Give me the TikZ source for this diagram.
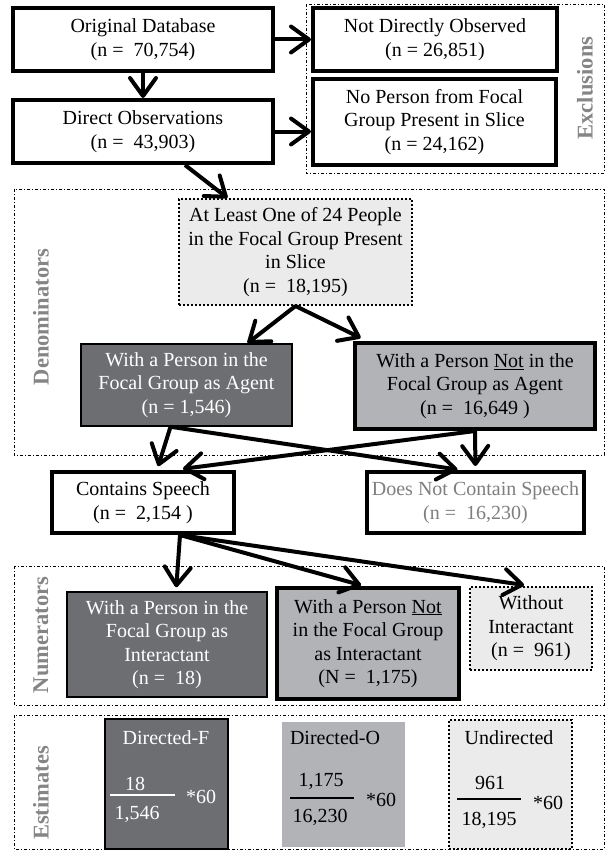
\documentclass[tikz,border=0pt]{standalone}
\usepackage{fontspec}
\setmainfont{Liberation Serif}
\usetikzlibrary{arrows.meta}
\definecolor{darkfill}{HTML}{6D6E71}
\definecolor{midfill}{HTML}{B1B3B6}
\definecolor{lightfill}{HTML}{EBEBEC}
\definecolor{labelgrey}{HTML}{858585}
\definecolor{softtext}{HTML}{7F7F7F}
\begin{document}
\begin{tikzpicture}[x=1pt, y=-1pt,
    every node/.style={font=\fontsize{20}{23.5}\selectfont, align=center, inner sep=0pt},
    stage/.style={draw, line width=4pt, fill=white},
    darkstage/.style={draw, line width=1.5pt, fill=darkfill, text=white},
    greystage/.style={draw, line width=4pt, fill=midfill},
    dotstage/.style={draw, line width=2pt, dotted, fill=lightfill},
    frame/.style={line width=0.8pt, dash pattern=on 3pt off 2pt on 1pt off 2pt},
    sidelabel/.style={rotate=90, text=labelgrey, font=\fontsize{22.5}{26}\selectfont\bfseries},
    flow/.style={line width=4pt, -{Straight Barb[length=18pt, width=26pt, round]}},
    fracline/.style={line width=2pt}]
   \useasboundingbox (0,0) rectangle (607,851);
   \draw[frame] (306,4) rectangle (604,173);
   \draw[frame] (14,189) rectangle (604,455);
   \draw[frame] (14,566) rectangle (604,705);
   \draw[frame] (14,715) rectangle (604,849);
   \node[sidelabel] (exclusions) at (585,88) {Exclusions};
   \node[sidelabel] (denominators) at (41,317) {Denominators};
   \node[sidelabel] (numerators) at (41,635) {Numerators};
   \node[sidelabel] (estimates) at (41,793) {Estimates};

   \node[stage, minimum width=260pt, minimum height=63pt] (orig) at (143,39.5) {Original Database\\(n = ~70,754)};
   \node[stage, minimum width=244pt, minimum height=63pt] (notobs) at (435,39.5) {Not Directly Observed\\(n = 26,851)};
   \node[stage, minimum width=260pt, minimum height=63pt] (direct) at (143,131.5) {Direct Observations\\(n = ~43,903)};
   \node[stage, minimum width=243pt, minimum height=86pt] (noperson) at (434.5,122) {No Person from Focal\\Group Present in Slice\\(n = 24,162)};
   \node[dotstage, minimum width=233pt, minimum height=106pt] (atleast) at (295.5,252) {At Least One of 24 People\\in the Focal Group Present\\in Slice\\(n = ~18,195)};
   \node[darkstage, minimum width=211pt, minimum height=82pt] (agent) at (186.5,385) {With a Person in the\\Focal Group as Agent\\(n = 1,546)};
   \node[greystage, minimum width=240pt, minimum height=86pt] (notagent) at (475,386) {With a Person \underline{Not} in the\\Focal Group as Agent\\(n = ~16,649 )};
   \node[stage, minimum width=182pt, minimum height=61pt] (contains) at (143,502.5) {Contains Speech\\(n = ~2,154 )};
   \node[stage, text=softtext, minimum width=217pt, minimum height=61pt] (doesnot) at (475.5,502.5) {Does Not Contain Speech\\(n = ~16,230)};
   \node[darkstage, minimum width=200pt, minimum height=105pt] (fgint) at (167,644.5) {With a Person in the\\Focal Group as\\Interactant\\(n = ~18)};
   \node[greystage, minimum width=182pt, minimum height=111pt] (notint) at (368,643.5) {With a Person \underline{Not}\\in the Focal Group\\as Interactant\\(N = ~1,175)};
   \node[dotstage, minimum width=122pt, minimum height=83pt] (without) at (531,628.5) {Without\\Interactant\\(n = ~961)};

   \node[darkstage, line width=2pt, minimum width=123pt, minimum height=130pt] (dirf) at (166.5,784) {};
   \node[text=white] (dirftitle) at (166,738) {Directed-F};
   \node[text=white] (dirfnum) at (135,784) {18};
   \node[text=white] (dirfden) at (137,814) {1,546};
   \node[text=white] (dirftimes) at (201,797) {*60};
   \draw[fracline, white] (110,795) -- (175,795);
   \node[fill=midfill, minimum width=123pt, minimum height=125pt] (diro) at (343.5,784.5) {};
   \node (dirotitle) at (335,738) {Directed-O};
   \node (dironum) at (321,781) {1,175};
   \node (diroden) at (320,817) {16,230};
   \node (dirotimes) at (381,800) {*60};
   \draw[fracline] (290,798) -- (354,798);
   \node[dotstage, minimum width=123pt, minimum height=129pt] (undir) at (510.5,784.5) {};
   \node (undirtitle) at (509,738) {Undirected};
   \node (undirnum) at (490,783) {961};
   \node (undirden) at (489,820) {18,195};
   \node (undirtimes) at (548,803) {*60};
   \draw[fracline] (457,799) -- (521,799);

   \draw[flow] (orig.east) -- (notobs.west);
   \draw[flow] (orig) -- (direct);
   \draw[flow] (direct.east) -- (direct.east -| noperson.west);
   \draw[flow] ([xshift=42pt]direct.south) -- ([xshift=-68pt]atleast.north);
   \draw[flow] (atleast.south) -- ([xshift=61pt]agent.north);
   \draw[flow, shorten >=7pt] (atleast.south) -- ([xshift=14pt]notagent.north west);
   \draw[flow, shorten >=4pt] ([xshift=-16pt]agent.south) -- ([xshift=14pt]contains.north);
   \draw[flow, shorten >=3pt] ([xshift=-16pt]agent.south) -- ([xshift=-15pt]doesnot.north);
   \draw[flow, shorten >=4pt] (notagent.south) -- (doesnot.north);
   \draw[flow, shorten >=9pt] (notagent.south) -- ([xshift=31pt]contains.north);
   \draw[flow, shorten >=4pt] ([xshift=37pt]contains.south) -- ([xshift=9pt]fgint.north);
   \draw[flow, shorten >=3pt] ([xshift=37pt]contains.south) -- ([xshift=-4pt]notint.north);
   \draw[flow, shorten >=7pt] ([xshift=37pt]contains.south) -- (without.north);
\end{tikzpicture}
\end{document}
